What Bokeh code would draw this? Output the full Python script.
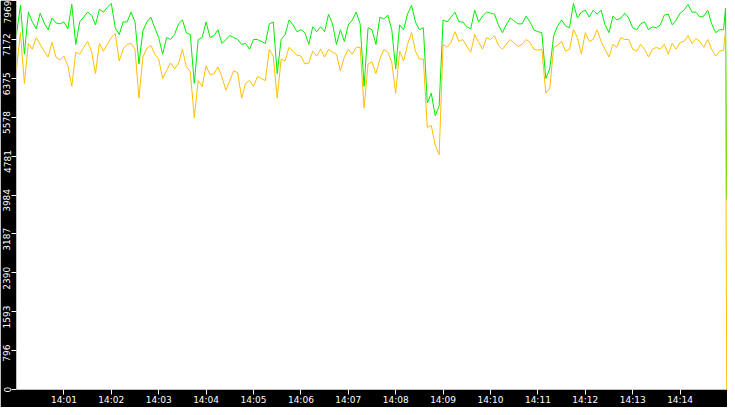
import pandas as pd
from bokeh.plotting import figure
from bokeh.models import (ColumnDataSource, Range1d, FixedTicker, DatetimeTickFormatter,
                          LinearAxis)
from bokeh.embed import file_html
from bokeh.resources import INLINE

start = pd.Timestamp("2024-01-01 14:00:00")
end = pd.Timestamp("2024-01-01 14:15:00")

# one reading every 5 s, plus the last two readings before the feed stops
times = list(pd.date_range(start, periods=180, freq="5s")) + [
    pd.Timestamp("2024-01-01 14:14:57.5"),
    pd.Timestamp("2024-01-01 14:14:59"),
]

green = [
    7270, 7870, 6870, 7730, 7530, 7390, 7710, 7510, 7370, 7610,
    7510, 7490, 7530, 7390, 7890, 7070, 7530, 7630, 7730, 7670,
    7470, 7790, 7730, 7830, 7910, 7410, 7270, 7530, 7530, 7730,
    7530, 6670,
    7350, 7530, 7630, 7410, 7210, 6870, 7210, 7170, 7270, 7490,
    7570, 7310, 7270, 6270, 7170, 7210, 7530, 7210, 7250, 7370,
    7090, 7170, 7250, 7210, 7170, 7070, 7090, 6970, 7170, 7170,
    7130, 7090, 7490, 7530, 6470, 7170, 7270, 7570, 7470, 7330,
    7370, 7310, 7070, 7430, 7330, 7430, 7330, 7690, 7490, 7070,
    7370, 7130, 7470, 7570, 7730, 7490, 6210, 7410, 7370, 7070,
    7630, 7590, 7670, 7370, 6570, 7470, 7370, 7690, 7870, 7530,
    7370, 7410, 5870, 6070, 5610, 5810, 7570, 7530, 7630, 7730,
    7530, 7530, 7430, 7390, 7770, 7530, 7650, 7730, 7710, 7690,
    7470, 7310, 7470, 7610, 7550, 7490, 7490, 7650, 7530, 7370,
    7330, 7310, 6370, 6570, 7250, 7450, 7570, 7450, 7410, 7910,
    7610, 7730, 7770, 7630, 7770, 7690, 7770, 7470, 7310, 7650,
    7570, 7610, 7710, 7610, 7410, 7370, 7490, 7530, 7370, 7430,
    7410, 7470, 7670, 7690, 7470, 7570, 7710, 7770, 7890, 7730,
    7730, 7630, 7650, 7770, 7490, 7310, 7370, 7370,
    7810, 3890,
]

orange = [
    6570, 7310, 6270, 7090, 6970, 7210, 7070, 6930, 6810, 7110,
    6810, 6750, 6830, 6630, 6210, 6910, 6870, 7010, 7130, 6930,
    6470, 7090, 6930, 7070, 7210, 7290, 6730, 6970, 7070, 7090,
    6970, 5970,
    6810, 6990, 7050, 6870, 6770, 6370, 6530, 6690, 6570, 6670,
    6970, 6610, 6510, 5570, 6330, 6210, 6630, 6450, 6470, 6610,
    6410, 6130, 6330, 6530, 6490, 5970, 6270, 6330, 6210, 6410,
    6370, 6330, 6970, 6830, 5970, 6770, 6730, 7010, 6930, 6850,
    6830, 6670, 6690, 6930, 6830, 6970, 6810, 6970, 6910, 6870,
    6530, 6810, 6970, 6870, 7010, 7010, 5770, 6670, 6710, 6470,
    6770, 6970, 6910, 6710, 6070, 6930, 6730, 7070, 7310, 6930,
    6770, 6770, 5370, 5410, 5010, 4810, 7070, 7010, 7110, 7330,
    7130, 7170, 7030, 6910, 7270, 7110, 6970, 7210, 7170, 7250,
    7050, 6970, 7070, 7170, 7090, 7030, 7070, 7170, 7110, 6970,
    6950, 6970, 6070, 6170, 7010, 7050, 7130, 6930, 6970, 7370,
    7210, 6870, 7310, 7130, 7170, 7370, 7130, 6970, 6810, 7070,
    7010, 7210, 7170, 7170, 6970, 6930, 7070, 6970, 6810, 6970,
    7010, 6970, 7070, 6870, 7090, 6970, 7110, 7130, 7250, 7090,
    7190, 7130, 7010, 7170, 6970, 6830, 6930, 6950,
    7350, 0,
]

y_ticks = [0, 796.9, 1593.8, 2390.7, 3187.6, 3984.5, 4781.4, 5578.3, 6375.2, 7172.1, 7969]
y_tick_labels = ["0", "796", "1593", "2390", "3187", "3984", "4781", "5578", "6375", "7172", "7969"]
x_tick_minutes = list(range(1, 15))

src = ColumnDataSource(data=dict(t=times, green=green, orange=orange))

p = figure(width=727, height=407, x_axis_type="datetime",
           x_range=Range1d(start, end), y_range=Range1d(0, 7969),
           output_backend="svg", toolbar_location=None)
p.min_border = 0
p.border_fill_color = "black"
p.background_fill_color = "white"
p.outline_line_color = None
p.grid.visible = False

p.line("t", "green", source=src, line_color="#00ee00", line_width=1)
p.line("t", "orange", source=src, line_color="#ffbf00", line_width=1)

p.xaxis.ticker = FixedTicker(ticks=[(start + pd.Timedelta(minutes=m)).value / 1e6 for m in x_tick_minutes])
p.xaxis.formatter = DatetimeTickFormatter(minutes="%H:%M", hours="%H:%M", seconds="%H:%M")
p.xaxis.major_label_text_color = "white"
p.xaxis.major_label_text_font = "DejaVu Sans"
p.xaxis.major_label_text_font_size = "9px"
p.xaxis.major_label_standoff = 0

# inner y axis: only the tick marks
p.yaxis.ticker = FixedTicker(ticks=y_ticks)
p.yaxis.major_label_overrides = {t: "" for t in y_ticks}
p.yaxis.major_label_text_font_size = "1px"
p.yaxis.major_label_standoff = 0

for ax in (p.xaxis, p.yaxis):
    ax.axis_line_color = None
    ax.major_tick_line_color = "white"
    ax.major_tick_in = 0
    ax.major_tick_out = 5
    ax.minor_tick_line_color = None

# outer y axis: the vertical labels hang just below their tick
units_per_px = 7969 / 389

def drop_px(lbl, top):
    if top:
        return 11.5
    if len(lbl) == 1:
        return 0
    return len(lbl) * 5.7 / 2 - 6

label_pos = [t - drop_px(l, t == y_ticks[-1]) * units_per_px for t, l in zip(y_ticks, y_tick_labels)]
lab_axis = LinearAxis(ticker=FixedTicker(ticks=label_pos),
                      major_label_overrides=dict(zip(label_pos, y_tick_labels)),
                      major_label_orientation="vertical",
                      major_label_text_color="white",
                      major_label_text_font="DejaVu Sans",
                      major_label_text_font_size="9px",
                      major_label_standoff=1,
                      major_tick_out=0, major_tick_in=0,
                      axis_line_color=None, minor_tick_line_color=None)
p.add_layout(lab_axis, "left")

open("out.html", "w").write(file_html(p, INLINE))
